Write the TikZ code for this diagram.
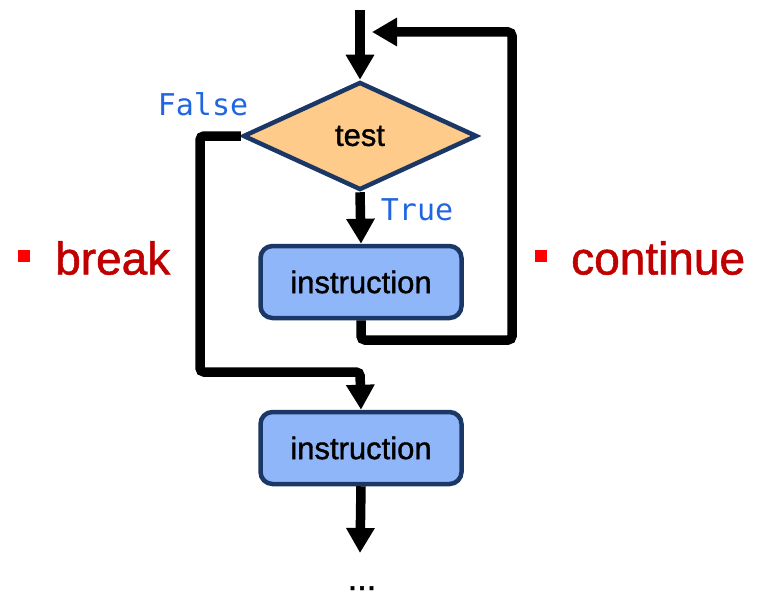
\documentclass[tikz,border=0pt]{standalone}
\usepackage{fontspec}
\setmainfont{Liberation Sans}
\newfontfamily\medfont[FakeBold=1.2]{Liberation Sans}
\newfontfamily\monof{DejaVu Sans Mono}
\usetikzlibrary{shapes.geometric,arrows.meta}
\definecolor{bordc}{HTML}{1B3766}
\definecolor{orangef}{HTML}{FECB8B}
\definecolor{bluef}{HTML}{8FB6F8}
\definecolor{lblblue}{HTML}{1F66E0}
\definecolor{darkred}{HTML}{C00000}
\definecolor{bulred}{HTML}{FF0000}
\tikzset{
  flow/.style={line width=9.5pt, rounded corners=4pt, -{Triangle[length=25pt,width=27pt]}},
  decision/.style={diamond, draw=bordc, line width=4.5pt, fill=orangef, inner sep=0pt,
    minimum width=234pt, minimum height=108pt, font=\medfont\fontsize{31}{34}\selectfont},
  instr/.style={rectangle, rounded corners=12pt, draw=bordc, line width=4.5pt, fill=bluef,
    minimum width=201pt, minimum height=72pt, inner sep=0pt, font=\medfont\fontsize{31}{34}\selectfont},
  tflabel/.style={text=lblblue, font=\monof\fontsize{30}{32}\selectfont, inner sep=0pt},
  kw/.style={text=darkred, font=\medfont\fontsize{46}{50}\selectfont, inner sep=0pt, anchor=west},
  bullet/.style={fill=bulred, minimum size=12pt, inner sep=0pt},
}
\begin{document}
\begin{tikzpicture}[x=1pt,y=-1pt]
\useasboundingbox (0,0) rectangle (762,594);

\node[decision] (test) at (360,136) {test};
\node[instr] (ins1) at (361,282) {instruction};
\node[instr] (ins2) at (361,448) {instruction};

\coordinate (start) at (360,10);
\coordinate (lc1) at (512,340);
\coordinate (lc2) at (512,32);
\coordinate (lend) at (372,32);
\coordinate (bc1) at (200,136);
\coordinate (bc2) at (200,372);
\coordinate (bc3) at (360,372);
\coordinate (endp) at (360,553);

\draw[flow] (start) -- (test.north);
\draw[flow] (test.south) -- (ins1.north);
\draw[flow] (ins1.south) |- (lc1) -- (lc2) -- (lend);
\draw[flow] (test.west) -- (bc1) -- (bc2) -- (bc3) -- (ins2.north);
\draw[flow] (ins2.south) -- (endp);

\node[tflabel] (flabel) at (203,104) {False};
\node[tflabel] (tlabel) at (417,210) {True};

\node[bullet] (b1) at (24,256) {};
\node[kw] (kbreak) at (55,258) {break};
\node[bullet] (b2) at (541,256) {};
\node[kw] (kcont) at (571,258) {continue};

\node[anchor=base, font=\medfont\fontsize{34}{36}\selectfont, inner sep=0pt] (dots) at (362,590) {...};
\end{tikzpicture}
\end{document}
